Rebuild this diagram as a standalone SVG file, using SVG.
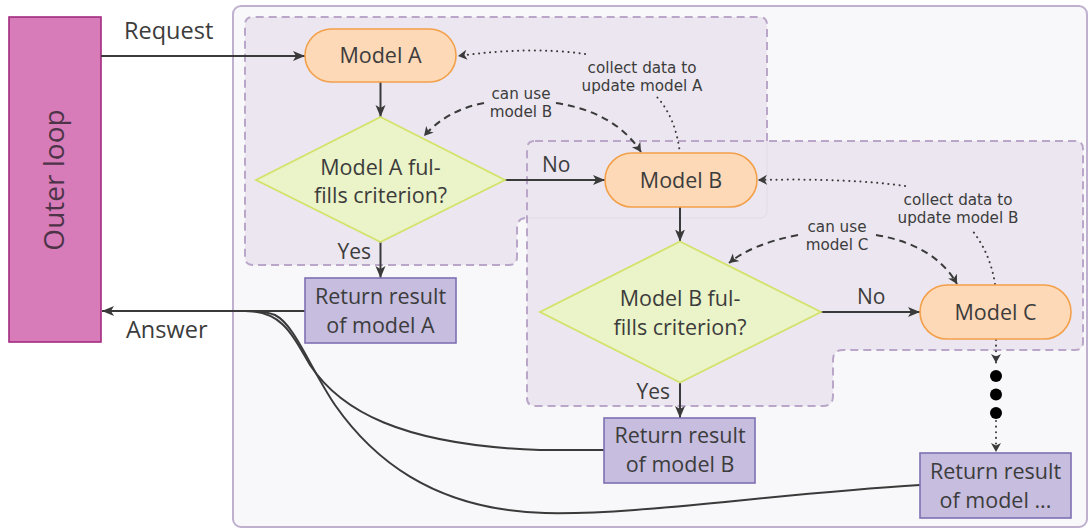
<svg xmlns="http://www.w3.org/2000/svg" width="1090" height="529" viewBox="0 0 1090 529">
  <defs>
    <style>
      text { font-family: "Open Sans", "Noto Sans", "DejaVu Sans", sans-serif; fill: #3c3c3c; }
      .lbl { font-size: 21.5px; text-anchor: middle; }
      .side { font-size: 21px; }
      .io { font-size: 23.5px; }
      .note { font-family: "DejaVu Sans", "Open Sans", sans-serif; font-size: 15.2px; text-anchor: middle; }
      .pill { fill: #fdd9b8; stroke: #f3a04a; stroke-width: 1.6; }
      .diamond { fill: #ebf3c8; stroke: #d3e36a; stroke-width: 1.8; }
      .ret { fill: #c6bddf; stroke: #7e70b2; stroke-width: 1.6; }
      .region { fill: #ebe6ef; stroke: none; }
      .region-edge { fill: none; stroke: #b9a6c9; stroke-width: 2; stroke-dasharray: 8 5; }
      .flow { fill: none; stroke: #3a3a3a; stroke-width: 2; }
      .dash { fill: none; stroke: #3a3a3a; stroke-width: 2; stroke-dasharray: 7 5; }
      .dot { fill: none; stroke: #3a3a3a; stroke-width: 2; stroke-dasharray: 0.1 5.5; stroke-linecap: round; }
    </style>
    <marker id="head" markerUnits="userSpaceOnUse" markerWidth="14" markerHeight="12" refX="12" refY="5" orient="auto">
      <path d="M0,0 L12,5 L0,10 L3,5 Z" fill="#3a3a3a"/>
    </marker>
    <marker id="small" markerUnits="userSpaceOnUse" markerWidth="12" markerHeight="12" refX="9" refY="5" orient="auto">
      <path d="M0,0 L9,5 L0,10 L2.5,5 Z" fill="#3a3a3a"/>
    </marker>
  </defs>

  <!-- outer loop bar -->
  <g id="outer-loop">
    <rect x="9" y="17" width="92" height="325" fill="#d77cb9" stroke="#a32a80" stroke-width="1.6"/>
    <text transform="translate(64,180) rotate(-90)" font-size="28" text-anchor="middle" style="fill:#4d3347">Outer loop</text>
  </g>

  <!-- inner loop container -->
  <g id="inner-loop">
    <rect x="233" y="6" width="854" height="521" rx="8" fill="#f8f8fa" stroke="#bfb0d0" stroke-width="2"/>
  </g>

  <!-- scope of model A -->
  <g id="region-a">
    <path class="region" d="M253,17 H759 Q767,17 767,25 V210 Q767,218 759,218 H527 Q517,218 517,228 V257 Q517,265 509,265 H253 Q245,265 245,257 V25 Q245,17 253,17 Z"/>
    <path class="region-edge" d="M767,141 V25 Q767,17 759,17 H253 Q245,17 245,25 V257 Q245,265 253,265 H509 Q517,265 517,257 V228 Q517,218 527,218"/>
  </g>

  <!-- scope of model B -->
  <g id="region-b">
    <path class="region" d="M535,141 H1075 Q1083,141 1083,149 V342 Q1083,350 1075,350 H843 Q833,350 833,360 V396 Q833,406 823,406 H535 Q527,406 527,398 V149 Q527,141 535,141 Z"/>
    <path d="M767,141 V210 Q767,218 759,218 H528" fill="none" stroke="#e2dbe8" stroke-width="1"/>
    <path class="region-edge" d="M535,141 H1075 Q1083,141 1083,149 V342 Q1083,350 1075,350 H843 Q833,350 833,360 V396 Q833,406 823,406 H535 Q527,406 527,398 V149 Q527,141 535,141 Z"/>
  </g>

  <!-- connectors -->
  <g id="connectors">
    <path class="flow" d="M101,56 H305" marker-end="url(#head)"/>
    <path class="flow" d="M380.5,82 V117" marker-end="url(#head)"/>
    <path class="flow" d="M505,180 H605" marker-end="url(#head)"/>
    <path class="flow" d="M380.5,242 V278" marker-end="url(#head)"/>
    <path class="flow" d="M680,207 V241.5" marker-end="url(#head)"/>
    <path class="flow" d="M821,312 H920" marker-end="url(#head)"/>
    <path class="flow" d="M680,382.5 V418" marker-end="url(#head)"/>

    <!-- results returned to the outer loop -->
    <path class="flow" d="M305,311 H102" marker-end="url(#head)"/>
    <path class="flow" d="M604,450 H540 C400,445 340,410 310,365 C290,330 280,311 245,311"/>
    <path class="flow" d="M920,485 C760,495 640,515 545,513 C430,510 370,455 335,405 C310,368 295,325 275,315 C265,311 255,311 245,311"/>

    <!-- can use model B -->
    <path class="dash" d="M484,103 Q447,110 424,136" marker-end="url(#small)"/>
    <path class="dash" d="M556,103 Q615,112 641,152" marker-end="url(#small)"/>
    <!-- collect data to update model A -->
    <path class="dot" d="M680,154 Q676,118 657,97"/>
    <path class="dot" d="M585,54 Q530,46 458,56" marker-end="url(#small)"/>
    <!-- can use model C -->
    <path class="dash" d="M798,235 Q752,244 729,263" marker-end="url(#small)"/>
    <path class="dash" d="M876,235 Q935,245 957,284" marker-end="url(#small)"/>
    <!-- collect data to update model B -->
    <path class="dot" d="M995,284 Q990,252 971,229"/>
    <path class="dot" d="M905,186 Q850,178 758,180" marker-end="url(#small)"/>

    <!-- further models -->
    <path class="dot" d="M996,340 V363" marker-end="url(#small)"/>
    <circle cx="996" cy="376" r="6" fill="#000"/>
    <circle cx="996" cy="394.5" r="6" fill="#000"/>
    <circle cx="996" cy="413" r="6" fill="#000"/>
    <path class="dot" d="M996,421 V452" marker-end="url(#small)"/>
  </g>

  <!-- connector labels -->
  <g id="labels">
    <text class="io" x="124" y="39">Request</text>
    <text class="io" x="126" y="338">Answer</text>
    <text class="side" x="542" y="172">No</text>
    <text class="side" x="857" y="304">No</text>
    <text class="side" x="371" y="259" text-anchor="end">Yes</text>
    <text class="side" x="670" y="399" text-anchor="end">Yes</text>
    <text class="note"><tspan x="521" y="98.5">can use</tspan><tspan x="521" y="117">model B</tspan></text>
    <text class="note"><tspan x="642" y="72.5">collect data to</tspan><tspan x="642" y="91">update model A</tspan></text>
    <text class="note"><tspan x="837" y="231.5">can use</tspan><tspan x="837" y="250">model C</tspan></text>
    <text class="note"><tspan x="958" y="204.5">collect data to</tspan><tspan x="958" y="223">update model B</tspan></text>
  </g>

  <g id="model-a">
    <rect class="pill" x="305" y="29" width="151" height="53" rx="26.5"/>
    <text class="lbl" x="380.5" y="63">Model A</text>
  </g>
  <g id="check-a">
    <polygon class="diamond" points="380.5,117 505,180 380.5,242 256,180"/>
    <text class="lbl"><tspan x="380.5" y="175">Model A ful-</tspan><tspan x="380.5" y="203">fills criterion?</tspan></text>
  </g>
  <g id="result-a">
    <rect class="ret" x="305" y="278" width="151" height="65"/>
    <text class="lbl"><tspan x="380.5" y="304">Return result</tspan><tspan x="380.5" y="333">of model A</tspan></text>
  </g>

  <g id="model-b">
    <rect class="pill" x="605" y="153" width="152" height="54" rx="27"/>
    <text class="lbl" x="681" y="188">Model B</text>
  </g>
  <g id="check-b">
    <polygon class="diamond" points="680,241.5 821,312 680,382.5 540,312"/>
    <text class="lbl"><tspan x="680" y="306">Model B ful-</tspan><tspan x="680" y="335">fills criterion?</tspan></text>
  </g>
  <g id="result-b">
    <rect class="ret" x="604" y="418" width="151" height="65"/>
    <text class="lbl"><tspan x="680" y="443">Return result</tspan><tspan x="680" y="472">of model B</tspan></text>
  </g>

  <g id="model-c">
    <rect class="pill" x="920" y="285" width="151" height="54" rx="27"/>
    <text class="lbl" x="995.5" y="320">Model C</text>
  </g>
  <g id="result-n">
    <rect class="ret" x="920" y="453" width="151" height="65"/>
    <text class="lbl"><tspan x="995.5" y="479">Return result</tspan><tspan x="995.5" y="508">of model ...</tspan></text>
  </g>
</svg>
